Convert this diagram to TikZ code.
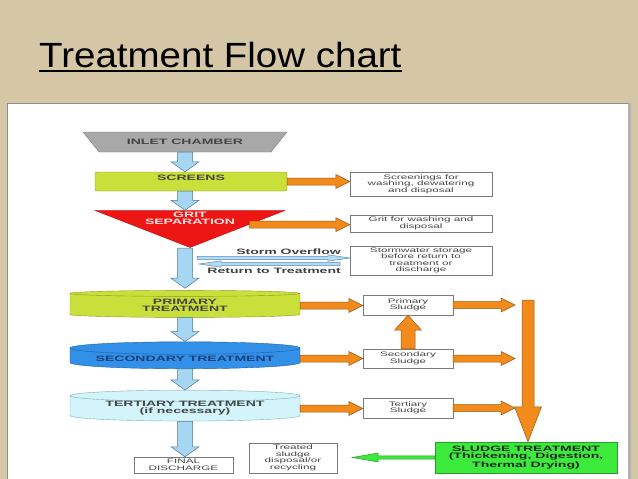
\documentclass[tikz,border=0pt]{standalone}
\usepackage{fontspec}
\setmainfont{Liberation Sans}
\newfontfamily\chartfont[FakeStretch=1.8]{Liberation Sans}
\newfontfamily\titlefont[FakeStretch=1.1]{Liberation Sans}
\usetikzlibrary{calc,shapes.geometric}
\definecolor{slidebg}{HTML}{D5C7A6}
\definecolor{panelline}{HTML}{8C8C8C}
\definecolor{inletgrey}{HTML}{A8A8A8}
\definecolor{inletline}{HTML}{7A7A7A}
\definecolor{screengreen}{HTML}{C9E03A}
\definecolor{screenline}{HTML}{8A9A20}
\definecolor{gritred}{HTML}{EE1515}
\definecolor{gritline}{HTML}{B01010}
\definecolor{gritpink}{HTML}{FFE4E4}
\definecolor{secblue}{HTML}{3390E8}
\definecolor{secline}{HTML}{1F5FA0}
\definecolor{sectext}{HTML}{1B3F7A}
\definecolor{tertcyan}{HTML}{D2F4FA}
\definecolor{tertline}{HTML}{7AB0C0}
\definecolor{flowblue}{HTML}{A6D6F2}
\definecolor{flowline}{HTML}{4D7A99}
\definecolor{sludgeorange}{HTML}{F28A1C}
\definecolor{sludgeline}{HTML}{9A5A14}
\definecolor{sludgegreen}{HTML}{3BEA3B}
\definecolor{sludgegline}{HTML}{2A9A2A}
\definecolor{boxline}{HTML}{7A7A7A}
\definecolor{boxtext}{HTML}{444444}
\definecolor{stormblue}{HTML}{B3DAF0}
\definecolor{stormline}{HTML}{5B8DB8}
\tikzset{
  arrshaft/.store in=\arrshaft, arrhead/.store in=\arrhead, arrlen/.store in=\arrlen,
  blockarrow/.style={line width=0.5pt, line join=miter,
    to path={
      ($(\tikztostart)!\arrshaft!90:(\tikztotarget)$)
      -- ($($(\tikztotarget)!\arrlen!(\tikztostart)$)!\arrshaft!-90:(\tikztostart)$)
      -- ($($(\tikztotarget)!\arrlen!(\tikztostart)$)!\arrhead!-90:(\tikztostart)$)
      -- (\tikztotarget)
      -- ($($(\tikztotarget)!\arrlen!(\tikztostart)$)!\arrhead!90:(\tikztostart)$)
      -- ($($(\tikztotarget)!\arrlen!(\tikztostart)$)!\arrshaft!90:(\tikztostart)$)
      -- ($(\tikztostart)!\arrshaft!-90:(\tikztotarget)$)
      -- cycle}},
  blueflow/.style={blockarrow, fill=flowblue, draw=flowline, arrshaft=7.5pt, arrhead=14pt, arrlen=10pt},
  sludgeflow/.style={blockarrow, fill=sludgeorange, draw=sludgeline, arrshaft=3.5pt, arrhead=7pt, arrlen=14pt},
  stormflow/.style={blockarrow, fill=stormblue, draw=stormline, arrshaft=1.6pt, arrhead=3.2pt, arrlen=22pt},
  greenflow/.style={blockarrow, fill=sludgegreen, draw=sludgegline, arrshaft=1.6pt, arrhead=4.5pt, arrlen=26pt},
  txt/.style={font=\chartfont\fontsize{6.5}{6.5}\selectfont, text=boxtext, align=center, inner sep=0pt},
  caps/.style={font=\chartfont\bfseries\fontsize{7.8}{7}\selectfont, align=center, inner sep=0pt},
  outbox/.style={txt, draw=boxline, fill=white, minimum width=90pt},
  tank/.style={caps, shape=cylinder, shape border rotate=90, aspect=0.07, draw, minimum width=230pt, minimum height=27pt}
}
\begin{document}
\begin{tikzpicture}[x=1pt,y=-1pt]
\fill[slidebg] (0,0) rectangle (638,479);
\useasboundingbox (0,0) rectangle (638,479);
\node[anchor=base west, inner sep=0pt, font=\titlefont\fontsize{35}{35}\selectfont] (title) at (39,67) {Treatment Flow chart\ };
\draw[line width=1.6pt] ($(title.base west)+(0,4)$) -- ($(title.base east)+(0,4)$);
\fill[white] (7,103) rectangle (630,479);
\draw[panelline] (7,479) -- (7,103) -- (630,103);
\draw[gray!60, line width=3pt] (629,103) -- (629,479);
% main line
\node[caps, shape=trapezium, shape border rotate=180, trapezium left angle=27, trapezium right angle=27, trapezium stretches=true, minimum width=204pt, minimum height=20pt, fill=inletgrey, draw=inletline, text=boxtext] (inlet) at (185,142) {INLET CHAMBER};
\node[caps, rounded corners=2pt, fill=screengreen, draw=screenline, minimum width=192pt, minimum height=19pt, text depth=7pt, text=boxtext] (scr) at (191,181.5) {SCREENS};
\node[shape=isosceles triangle, shape border rotate=-90, isosceles triangle stretches=true, minimum width=190pt, minimum height=37pt, fill=gritred, draw=gritline, inner sep=0pt, anchor=apex] (grit) at (190,248) {};
\node[caps, text=gritpink] (gritlbl) at (190,218) {GRIT\\SEPARATION};
\node[tank, fill=screengreen, draw=screenline, text=boxtext] (prim) at (185,305.5) {PRIMARY\\TREATMENT};
\node[tank, fill=secblue, draw=secline, text=sectext] (sec) at (185,358.5) {SECONDARY TREATMENT};
\node[tank, fill=tertcyan, draw=tertline, text=boxtext] (tert) at (185,408.5) {TERTIARY TREATMENT\\(if necessary)};
\node[outbox, minimum width=99pt, minimum height=16pt] (final) at (183.5,465) {FINAL\\DISCHARGE};
% side boxes
\node[outbox, minimum width=142pt, minimum height=24pt] (scrout) at (421,184) {Screenings for\\washing, dewatering\\and disposal};
\node[outbox, minimum width=142pt, minimum height=17pt] (gritout) at (421,223.5) {Grit for washing and\\disposal};
\node[outbox, minimum width=142pt, minimum height=29pt] (storm) at (421,260.5) {Stormwater storage\\before return to\\treatment or\\discharge};
\node[outbox, minimum height=20pt] (psl) at (408,305) {Primary\\Sludge};
\node[outbox, minimum height=19pt] (ssl) at (408,358.5) {Secondary\\Sludge};
\node[outbox, minimum height=20pt] (tsl) at (408,408) {Tertiary\\Sludge};
\node[outbox, minimum width=88pt, minimum height=30pt] (treat) at (293,458) {Treated\\sludge\\disposal/or\\recycling};
\node[caps, fill=sludgegreen, draw=sludgegline, minimum width=182pt, minimum height=31pt, text=black!85] (sludge) at (526,457.5) {SLUDGE TREATMENT\\(Thickening, Digestion,\\Thermal Drying)};
\node[caps, anchor=east, text=black!75] (ovflbl) at (341,252) {Storm Overflow};
\node[caps, anchor=east, text=black!75] (retlbl) at (341,271) {Return to Treatment};
% connector ends
\coordinate (axis) at (185,0);
\path (grit.apex) -- (grit.left corner) coordinate[pos=0.62] (gritedge);
\coordinate (gritend) at (gritedge -| gritout.west);
\coordinate (ovfstart) at (197,258);
\coordinate (ovfend) at (ovfstart -| storm.west);
\coordinate (retstart) at (340,264);
\coordinate (retend) at (199,264);
\coordinate (coll) at (528,300);
\coordinate (pslin) at ($(psl.east -| coll)+(-13,0)$);
\coordinate (sslin) at ($(ssl.east -| coll)+(-13,0)$);
\coordinate (tslin) at ($(tsl.east -| coll)+(-13,0)$);
\coordinate (treatin) at ($(treat.east |- sludge.west)+(15,0)$);
\filldraw[blueflow] (inlet.south) to (axis |- scr.north);
\filldraw[blueflow] (axis |- scr.south) to (axis |- grit.north);
\filldraw[blueflow] (axis |- grit.apex) to ($(prim.north)+(0,-2)$);
\filldraw[blueflow] (prim.south) to (sec.north);
\filldraw[blueflow] (sec.south) to (tert.north);
\filldraw[blueflow] (tert.south) to (axis |- final.north);
\filldraw[sludgeflow] (scr.east) to (scr.east -| scrout.west);
\filldraw[sludgeflow] (gritedge) to (gritend);
\filldraw[stormflow] (ovfstart) to (ovfend);
\filldraw[stormflow] (retstart) to (retend);
\filldraw[sludgeflow] (prim.east) to (prim.east -| psl.west);
\filldraw[sludgeflow] (sec.east) to (sec.east -| ssl.west);
\filldraw[sludgeflow] (tert.east) to (tert.east -| tsl.west);
\filldraw[sludgeflow, arrshaft=7pt, arrhead=13.5pt, arrlen=15pt] (ssl.north) to (psl.south);
\filldraw[sludgeflow] (psl.east) to (pslin);
\filldraw[sludgeflow] (ssl.east) to (sslin);
\filldraw[sludgeflow] (tsl.east) to (tslin);
\filldraw[sludgeflow, arrshaft=6pt, arrhead=13.5pt, arrlen=35pt] (coll) to (coll |- sludge.north);
\filldraw[greenflow] (sludge.west) to (treatin);
\end{tikzpicture}
\end{document}
